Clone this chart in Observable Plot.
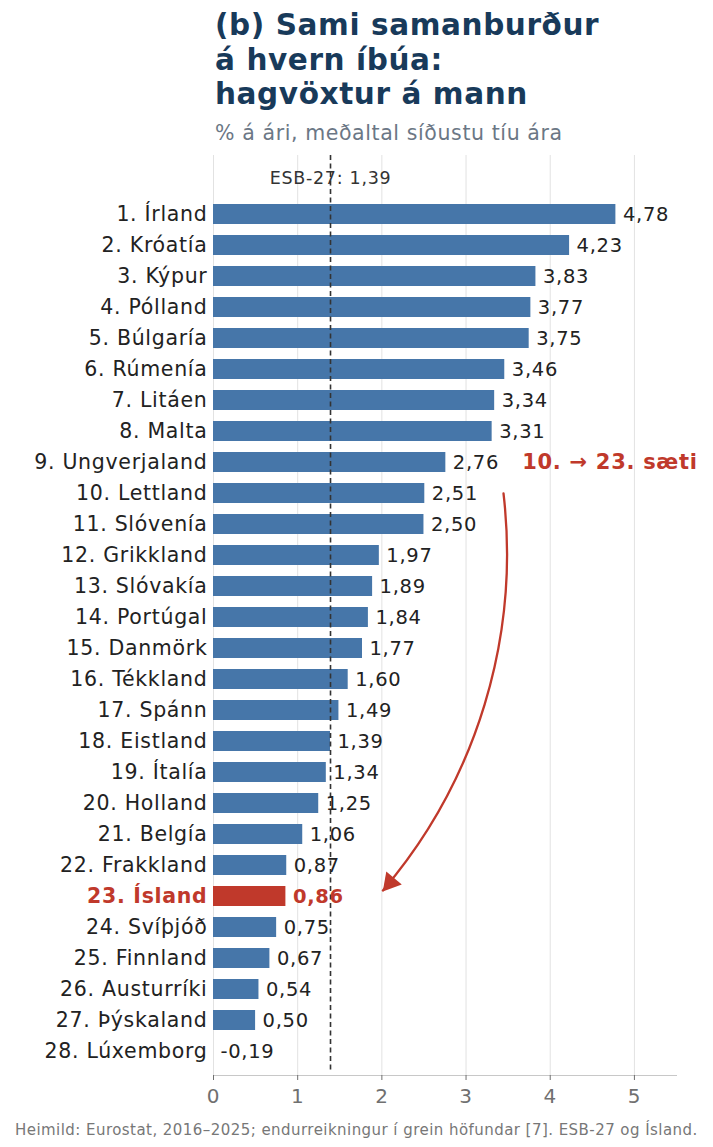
<!DOCTYPE html>
<html>
<head>
<meta charset="utf-8">
<script src="https://cdn.jsdelivr.net/npm/d3@7"></script>
<script src="https://cdn.jsdelivr.net/npm/@observablehq/plot@0.6"></script>
<style>
  body { margin: 0; background: #fff; font-family: "DejaVu Sans", sans-serif; }
  #wrap { position: relative; width: 713px; height: 1147px; overflow: hidden; background: #fff; }
  .title { position: absolute; left: 215px; top: 8px; font-weight: bold; font-size: 29.5px; line-height: 34.5px; color: #183a5a; letter-spacing: 0.6px; white-space: nowrap; }
  .sub { position: absolute; left: 215px; top: 121px; font-size: 20.5px; line-height: 24px; color: #6b7785; letter-spacing: 0.6px; white-space: nowrap; }
  #chart { position: absolute; left: 0; top: 150px; }
  #chart text { letter-spacing: 0.7px; }
  .cap { position: absolute; left: 15px; top: 1122px; font-size: 15px; line-height: 16px; color: #777; letter-spacing: 0.45px; white-space: nowrap; }
</style>
</head>
<body>
<div id="wrap">
  <div class="title">(b) Sami samanburður<br>á hvern íbúa:<br>hagvöxtur á mann</div>
  <div class="sub">% á ári, meðaltal síðustu tíu ára</div>
  <div id="chart"></div>
  <div class="cap">Heimild: Eurostat, 2016–2025; endurreikningur í grein höfundar [7]. ESB-27 og Ísland.</div>
</div>
<script>
const countries = ["Írland","Króatía","Kýpur","Pólland","Búlgaría","Rúmenía","Litáen","Malta","Ungverjaland","Lettland","Slóvenía","Grikkland","Slóvakía","Portúgal","Danmörk","Tékkland","Spánn","Eistland","Ítalía","Holland","Belgía","Frakkland","Ísland","Svíþjóð","Finnland","Austurríki","Þýskaland","Lúxemborg"];
const growth = [4.78,4.23,3.83,3.77,3.75,3.46,3.34,3.31,2.76,2.51,2.50,1.97,1.89,1.84,1.77,1.60,1.49,1.39,1.34,1.25,1.06,0.87,0.86,0.75,0.67,0.54,0.50,-0.19];
const xTicks = [0,1,2,3,4,5];
const euAverage = 1.39;
const euLabel = "ESB-27";
const highlight = "Ísland";
const annotationText = "10. → 23. sæti";
const arrowFrom = {x: 3.445, rank: 10};
const arrowTo = {x: 1.95, rank: 23};

const blue = "#4676a9";
const red = "#c0392b";
const fmt = v => v.toFixed(2).replace(".", ",");

const labels = countries.map((c, i) => `${i + 1}. ${c}`);
const rows = countries.map((c, i) => ({label: labels[i], country: c, value: growth[i], hl: c === highlight}));
const normal = rows.filter(d => !d.hl);
const hi = rows.filter(d => d.hl);

const chart = Plot.plot({
  width: 713,
  height: 965,
  marginTop: 5,
  marginBottom: 40,
  marginLeft: 213,
  marginRight: 37,
  style: {fontFamily: "DejaVu Sans", background: "white", overflow: "visible"},
  x: {domain: [0, 5.5], axis: null},
  y: {type: "band", domain: labels, range: [42.5, 922], padding: 0.35, axis: null},
  marks: [
    Plot.ruleX(xTicks, {stroke: "#e2e2e2", strokeWidth: 1}),
    Plot.frame({anchor: "bottom", stroke: "#c8c8c8"}),
    Plot.barX(normal, {x: "value", y: "label", fill: blue, clip: true}),
    Plot.barX(hi, {x: "value", y: "label", fill: red, clip: true}),
    Plot.ruleX([euAverage], {stroke: "#333", strokeDasharray: "5,3.5", strokeWidth: 1.6, insetBottom: 3}),
    Plot.text([`${euLabel}: ${fmt(euAverage)}`], {x: euAverage, text: d => d, frameAnchor: "top", lineAnchor: "middle", dy: 23, fontSize: 17.5, fill: "#333"}),
    Plot.text(normal, {y: "label", text: "label", frameAnchor: "left", textAnchor: "end", dx: -6, fontSize: 20.5, fill: "#222"}),
    Plot.text(hi, {y: "label", text: "label", frameAnchor: "left", textAnchor: "end", dx: -6, fontSize: 20.5, fill: red, fontWeight: "bold"}),
    Plot.text(normal, {x: d => Math.max(0, d.value), y: "label", text: d => fmt(d.value), textAnchor: "start", dx: 7, fontSize: 19.5, fill: "#222"}),
    Plot.text(hi, {x: d => Math.max(0, d.value), y: "label", text: d => fmt(d.value), textAnchor: "start", dx: 7, fontSize: 19.5, fill: red, fontWeight: "bold"}),
    Plot.text([{t: annotationText, x: 3.667, y: labels[8]}], {x: "x", y: "y", text: "t", textAnchor: "start", fontSize: 21, fontWeight: "bold", fill: red}),
    Plot.arrow([{x1: arrowFrom.x, y1: labels[arrowFrom.rank - 1], x2: arrowTo.x, y2: labels[arrowTo.rank - 1]}],
      {x1: "x1", y1: "y1", x2: "x2", y2: "y2", bend: 24, stroke: red, strokeWidth: 2.3, headLength: 0, insetEnd: 8}),
    Plot.dot([{x: 2.10, y: labels[arrowTo.rank - 1]}], {x: "x", y: "y", dy: -14, symbol: "triangle", r: 7.5, fill: red, stroke: "none", rotate: 220}),
    Plot.axisX(xTicks, {anchor: "bottom", tickSize: 5, tickPadding: 8, fontSize: 20, color: "#707070", label: null, tickFormat: d => String(d)})
  ]
});
document.getElementById("chart").appendChild(chart);
</script>
</body>
</html>
